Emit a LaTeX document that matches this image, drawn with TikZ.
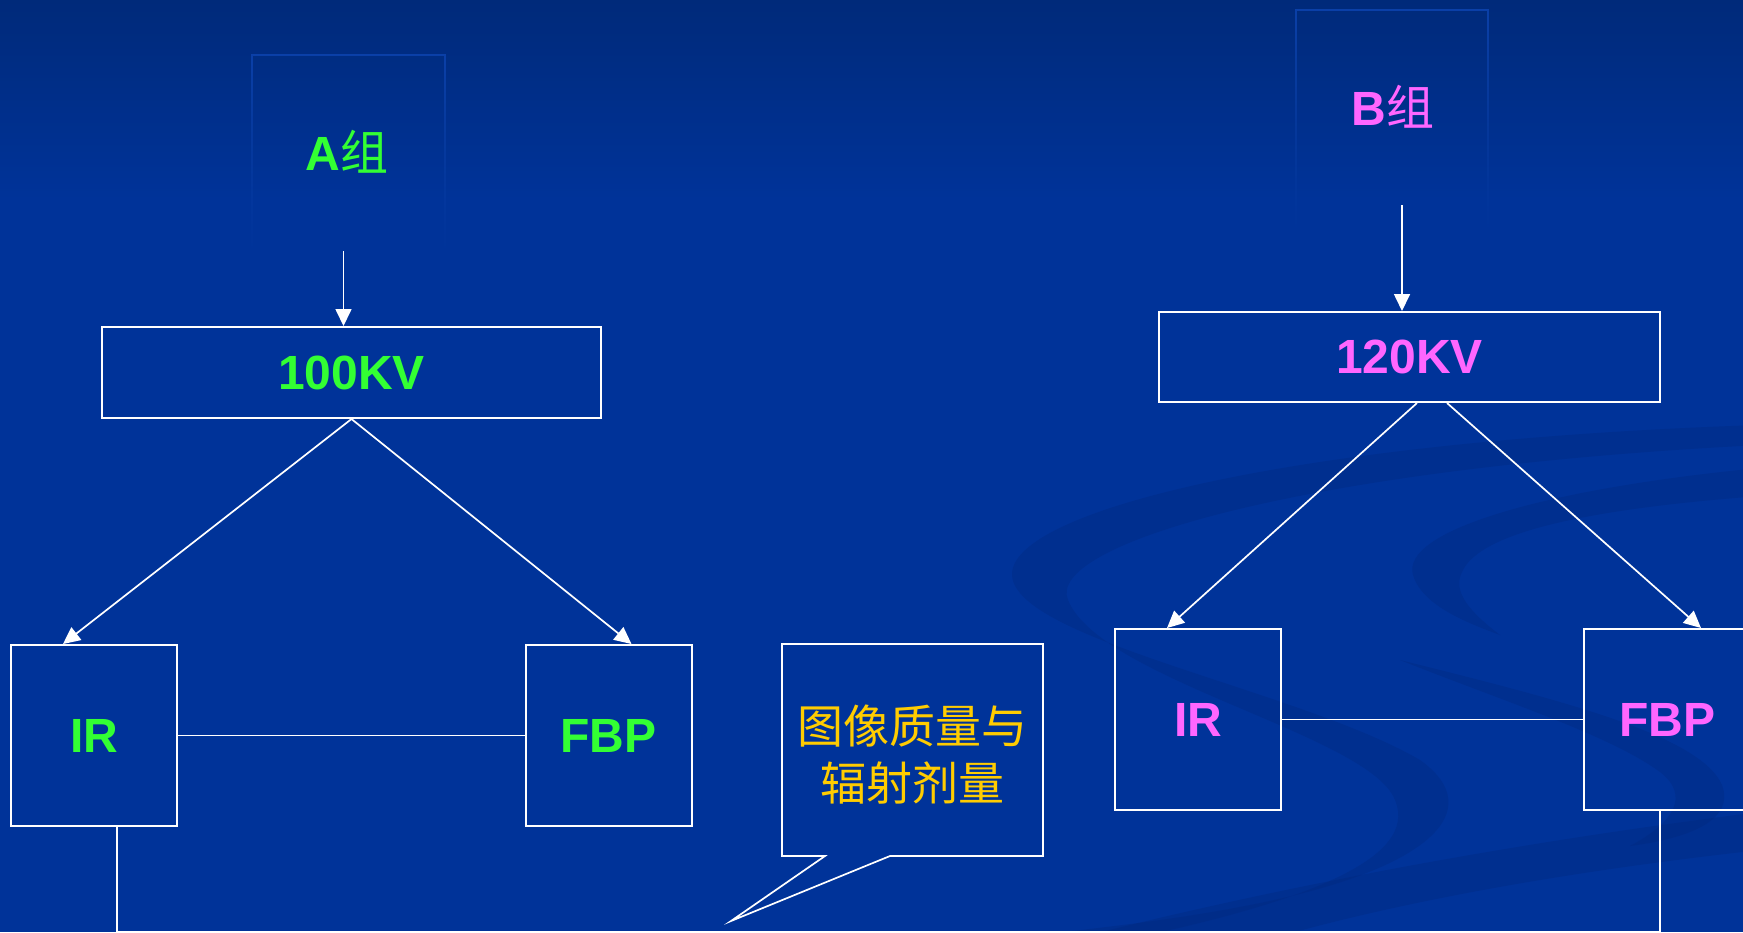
\documentclass[tikz,border=0pt]{standalone}
\usepackage{fontspec}
\setmainfont{Liberation Sans}
\newfontfamily\cjk{Noto Sans CJK SC}
\usetikzlibrary{arrows.meta,calc,fadings}
\definecolor{bgblue}{HTML}{003399}
\definecolor{bgtop}{HTML}{002A7A}
\definecolor{agreen}{HTML}{33FF33}
\definecolor{bpink}{HTML}{FF66FF}
\definecolor{gold}{HTML}{FFCC00}
\definecolor{swoosh}{HTML}{00297F}
\definecolor{faintline}{HTML}{0B40A8}
\begin{document}
\begin{tikzpicture}[x=1pt,y=-1pt,
  box/.style={draw=white, line width=2pt, inner sep=0pt,
    font=\fontsize{48}{56}\selectfont\bfseries},
  smallbox/.style={box, minimum width=166pt, minimum height=181pt},
  conn/.style={draw=white, line width=1.7pt},
  arr/.style={conn, -{Triangle[width=16pt,length=17pt]}},
  grouplabel/.style={inner sep=0pt, font=\fontsize{48}{56}\selectfont},
  fainted/.style={draw=faintline, line width=1.5pt, path fading=south},
  band/.style={fill=swoosh, opacity=0.38}]
% background
\useasboundingbox (0,0) rectangle (1743,932);
\fill[bgblue] (0,0) rectangle (1743,932);
\shade[top color=bgtop, bottom color=bgblue] (0,0) rectangle (1743,200);
% faint swooshes
\fill[band] (1760,425) .. controls (1300,440) and (1010,510) .. (1012,575)
   .. controls (1015,640) and (1300,690) .. (1420,760)
   .. controls (1490,810) and (1430,870) .. (1250,905)
   .. controls (1150,925) and (1050,932) .. (960,945)
   -- (1100,945) .. controls (1300,905) and (1420,860) .. (1395,800)
   .. controls (1370,735) and (1100,680) .. (1068,600)
   .. controls (1045,545) and (1300,468) .. (1760,445) -- cycle;
\fill[band] (1760,468) .. controls (1550,488) and (1400,530) .. (1413,575)
   .. controls (1422,605) and (1465,622) .. (1500,635)
   .. controls (1470,612) and (1452,592) .. (1462,572)
   .. controls (1480,530) and (1600,508) .. (1760,496) -- cycle;
\fill[band] (1400,660) .. controls (1560,700) and (1700,735) .. (1722,785)
   .. controls (1735,820) and (1690,838) .. (1630,846)
   .. controls (1675,822) and (1690,795) .. (1660,772)
   .. controls (1610,735) and (1500,700) .. (1400,660) -- cycle;
\fill[band] (1050,945) .. controls (1300,880) and (1550,838) .. (1760,812)
   -- (1760,850) .. controls (1560,872) and (1380,905) .. (1250,945) -- cycle;
% faint text boxes
\draw[fainted] (252,260) -- (252,55) -- (445,55) -- (445,260);
\draw[fainted] (1296,240) -- (1296,10) -- (1488,10) -- (1488,240);
% group labels
\node[grouplabel, text=agreen] (ga) at (347,152) {\textbf{A}{\cjk 组}};
\node[grouplabel, text=bpink] (gb) at (1393,107) {\textbf{B}{\cjk 组}};
% kV boxes
\node[box, minimum width=499pt, minimum height=91pt, text=agreen] (kva) at (351.5,372.5) {100KV};
\node[box, minimum width=501pt, minimum height=90pt, text=bpink] (kvb) at (1409.5,357) {120KV};
% method boxes
\node[smallbox, text=agreen] (ira) at (94,735.5) {IR};
\node[smallbox, text=agreen] (fbpa) at (608.5,735.5) {FBP};
\node[smallbox, text=bpink] (irb) at (1198,719.5) {IR};
\node[smallbox, text=bpink] (fbpb) at (1667,719.5) {FBP};
% arrows
\coordinate (as) at (343.5,251);
\coordinate (bs) at (1402,205);
\draw[arr] (as) -- (as |- kva.north);
\draw[arr] (bs) -- (bs |- kvb.north);
\draw[arr] (kva.south) -- ($(ira.north)+(-31,0)$);
\draw[arr] (kva.south) -- ($(fbpa.north)+(23,0)$);
\draw[arr] ($(kvb.south)+(7.5,0)$) -- ($(irb.north)+(-31,0)$);
\draw[arr] ($(kvb.south)+(37.5,0)$) -- ($(fbpb.north)+(34,0)$);
% horizontal links
\draw[conn] (ira) -- (fbpa);
\draw[conn] (irb) -- (fbpb);
% bottom link
\draw[conn] ($(ira.south)+(23,0)$) |- ($(fbpb.south)+(-7,121)$) -- ($(fbpb.south)+(-7,0)$);
% callout
\coordinate (c1) at (782,644);
\coordinate (c2) at (1043,644);
\coordinate (c3) at (1043,856);
\coordinate (c4) at (890,856);
\coordinate (ctip) at (731,921);
\coordinate (c5) at (825,856);
\coordinate (c6) at (782,856);
\draw[conn, fill=bgblue, line join=miter] (c1) -- (c2) -- (c3) -- (c4) -- (ctip) -- (c5) -- (c6) -- cycle;
\node[inner sep=0pt, align=center, text=gold, font=\cjk\fontsize{46}{57}\selectfont] (co) at (912.5,755) {图像质量与\\辐射剂量};
\end{tikzpicture}
\end{document}
